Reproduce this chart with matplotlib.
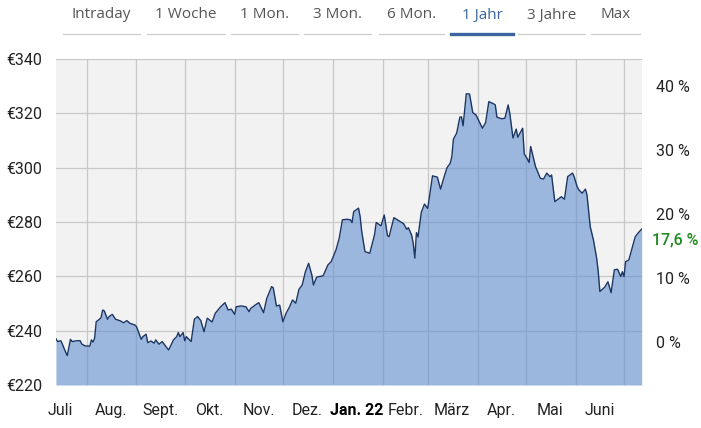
import numpy as np
import matplotlib
matplotlib.use("Agg")
import matplotlib.pyplot as plt
import matplotlib.dates as mdates
from matplotlib.lines import Line2D

# one year of closing prices, days counted from the first date
start = np.datetime64("2021-07-13")
day_offsets = [
    0, 1, 3, 4, 5, 7, 9, 10, 13, 15, 16, 18, 21, 22, 23, 24, 25, 27, 28, 29,
    30, 32, 33, 35, 37, 40, 42, 44, 46, 49, 50, 53, 54, 56, 57, 59, 61, 62, 64, 66,
    68, 70, 71, 73, 75, 76, 77, 79, 80, 81, 84, 86, 88, 90, 92, 94, 97, 99, 102, 105,
    107, 109, 111, 112, 115, 118, 120, 121, 124, 126, 127, 129, 131, 134, 135, 137, 139, 141, 143, 145,
    147, 149, 151, 153, 155, 157, 159, 160, 162, 166, 169, 171, 174, 176, 178, 181, 183, 184, 185, 188,
    189, 190, 192, 195, 198, 199, 202, 204, 206, 207, 210, 213, 216, 218, 219, 221, 222, 223, 224, 225,
    227, 229, 231, 233, 234, 237, 239, 241, 243, 245, 246, 247, 249, 251, 252, 253, 255, 257, 259, 261,
    263, 265, 267, 269, 272, 273, 274, 277, 279, 281, 282, 284, 286, 287, 290, 291, 293, 294, 295, 297,
    298, 301, 303, 305, 307, 308, 310, 313, 314, 316, 318, 321, 322, 324, 325, 327, 329, 330, 332, 334,
    336, 337, 338, 341, 343, 345, 347, 349, 351, 352, 353, 354, 356, 358, 360, 362, 364,
]
prices = [
    237.0, 236.0, 236.3, 235.0, 233.5, 230.8, 236.8, 236.0, 236.3, 236.3, 235.1, 234.4, 234.3, 236.6, 235.8, 237.2, 243.3, 244.2, 244.8, 247.6,
    247.3, 244.2, 245.2, 246.0, 244.2, 243.6, 242.9, 243.7, 242.7, 242.1, 241.5, 236.8, 237.8, 238.7, 235.6, 236.2, 235.4, 236.6, 235.0, 236.0,
    234.4, 232.9, 234.1, 236.6, 237.8, 239.3, 237.8, 239.3, 236.3, 237.8, 236.0, 244.2, 245.2, 243.7, 239.6, 244.6, 243.2, 246.4, 248.6, 250.3,
    247.6, 247.9, 246.0, 248.8, 249.1, 248.8, 247.0, 248.2, 249.5, 250.3, 249.1, 246.6, 251.9, 256.2, 255.8, 249.1, 249.4, 243.3, 246.4, 248.6,
    251.3, 250.1, 255.2, 256.8, 261.7, 264.8, 260.5, 256.8, 259.7, 260.2, 264.2, 265.4, 269.7, 274.0, 280.8, 281.0, 280.8, 279.8, 283.8, 285.1,
    282.0, 276.5, 269.1, 268.5, 275.4, 279.8, 278.6, 282.6, 275.0, 274.6, 281.6, 280.5, 279.4, 277.3, 277.9, 275.2, 272.2, 266.7, 276.1, 274.5,
    283.5, 286.6, 285.0, 293.0, 297.0, 296.5, 292.1, 296.2, 300.0, 301.6, 304.1, 310.5, 312.7, 318.6, 318.7, 315.4, 327.2, 327.1, 320.3, 319.4,
    317.0, 314.5, 316.6, 324.3, 323.5, 323.1, 318.6, 318.0, 318.2, 323.1, 320.1, 310.9, 314.2, 311.2, 314.5, 305.1, 303.1, 301.9, 307.8, 302.9,
    300.4, 296.1, 295.8, 298.0, 296.7, 297.3, 287.5, 288.8, 289.3, 288.4, 296.7, 298.0, 296.7, 292.8, 291.8, 290.6, 292.1, 290.0, 278.3, 273.4,
    266.7, 261.7, 254.4, 256.0, 258.0, 254.0, 262.4, 262.6, 259.9, 261.7, 259.9, 265.4, 266.0, 270.3, 274.6, 276.1, 277.4,
]
change_pct = 17.6

price_ticks = [220, 240, 260, 280, 300, 320, 340]
pct_ticks = [0, 10, 20, 30, 40]
label_dates = [
    "2021-07-16", "2021-08-16", "2021-09-16", "2021-10-16", "2021-11-16", "2021-12-16",
    "2022-01-16", "2022-02-15", "2022-03-16", "2022-04-16", "2022-05-16", "2022-06-16",
]
month_labels = ["Juli", "Aug.", "Sept.", "Okt.", "Nov.", "Dez.",
                "Jan. 22", "Febr.", "März", "Apr.", "Mai", "Juni"]
tab_labels = ["Intraday", "1 Woche", "1 Mon.", "3 Mon.", "6 Mon.", "1 Jahr", "3 Jahre", "Max"]
active_tab = "1 Jahr"

# layout of the tab strip, in pixels
tab_edges = [(63, 140), (147, 225), (231, 298), (304, 371),
             (379, 444), (451, 513), (518, 585), (591, 640)]

W, H = 701, 428
plt.rcParams["font.family"] = ["Roboto", "DejaVu Sans"]

fig = plt.figure(figsize=(W / 100, H / 100), dpi=100)
ax = fig.add_axes([56 / W, 1 - 385 / H, (641.7 - 56) / W, (385 - 59) / H])

dates = start + np.array(day_offsets).astype("timedelta64[D]")
ymin, ymax = price_ticks[0], price_ticks[-1]

ax.set_facecolor("#f2f2f2")
ax.fill_between(dates, prices, ymin, color="#6190d1", alpha=0.6, lw=0, zorder=2)
ax.plot(dates, prices, color="#1c3563", lw=1.0, zorder=3)

ax.set_xlim(start, start + np.timedelta64(364, "D"))
ax.set_ylim(ymin, ymax)

ax.xaxis.set_minor_locator(mdates.MonthLocator(bymonthday=1))
ax.set_xticks(np.array(label_dates, dtype="datetime64[D]"))
ax.set_xticklabels(month_labels)
ax.set_yticks(price_ticks)
ax.set_yticklabels([f"€{p}" for p in price_ticks])

ax.set_axisbelow(True)
ax.grid(which="minor", axis="x", color="#c8c8c8", lw=0.9)
ax.grid(which="major", axis="y", color="#c8c8c8", lw=0.9)
ax.tick_params(which="both", length=0)
ax.tick_params(axis="x", pad=13, labelsize=11.5, labelcolor="#222222")
ax.tick_params(axis="y", pad=10, labelsize=11.5, labelcolor="#222222")
for lbl in ax.get_xticklabels():
    if lbl.get_text() == "Jan. 22":
        lbl.set_fontweight("bold")
        lbl.set_color("#000000")
for s in ax.spines.values():
    s.set_visible(False)

# percent scale on the right, relative to the first close
base = prices[-1] / (1 + change_pct / 100)
ax2 = ax.twinx()
ax2.set_ylim((ymin / base - 1) * 100, (ymax / base - 1) * 100)
ax2.set_yticks(pct_ticks)
ax2.set_yticklabels([f"{t} %" for t in pct_ticks])
ax2.tick_params(length=0, pad=10, labelsize=11.5, labelcolor="#222222")
for s in ax2.spines.values():
    s.set_visible(False)
ax2.annotate(f"{change_pct:.1f} %".replace(".", ","), xy=(1, change_pct),
             xycoords=("axes fraction", "data"), xytext=(10, -11),
             textcoords="offset pixels", va="center", ha="left",
             color="#1e8a1e", fontweight="medium", fontsize=11.5)

# tab strip
for label, (x0, x1) in zip(tab_labels, tab_edges):
    active = label == active_tab
    fig.text((x0 + x1) / 2 / W, 1 - 15 / H, label, ha="center", va="center",
             fontsize=11, family=["Open Sans", "DejaVu Sans"],
             color="#3b64a0" if active else "#555555")
    fig.add_artist(Line2D([x0 / W, x1 / W], [1 - 34 / H] * 2,
                          color="#3b64a0" if active else "#cccccc",
                          lw=2.4 if active else 0.9))

fig.savefig("out.png", dpi=100)
